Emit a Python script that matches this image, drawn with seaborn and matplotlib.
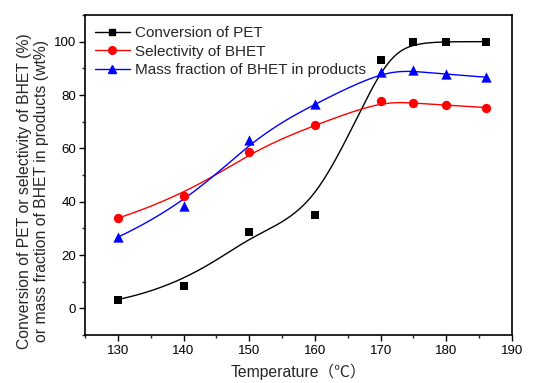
import numpy as np
import pandas as pd
import matplotlib
matplotlib.use("Agg")
import matplotlib.pyplot as plt
from matplotlib.lines import Line2D
from matplotlib.ticker import MultipleLocator
import seaborn as sns

# ---- data ----
temperature = [130, 140, 150, 160, 170, 175, 180, 186]
conversion_pet = [3.3, 8.5, 28.5, 35.0, 93.0, 100.0, 100.0, 100.0]
selectivity_bhet = [33.8, 42.0, 58.8, 68.7, 77.7, 77.0, 76.2, 75.3]
mass_fraction_bhet = [26.7, 38.3, 63.3, 76.7, 88.7, 89.2, 87.7, 86.7]
series_labels = ["Conversion of PET", "Selectivity of BHET",
                 "Mass fraction of BHET in products"]


def bspline_curve(px, py, samples=400, k=3):
    """Clamped uniform cubic B-spline using the data points as control points
    (the 'B-Spline' connection style of the original plot)."""
    px = np.asarray(px, float)
    py = np.asarray(py, float)
    n = len(px)
    knots = np.concatenate([np.zeros(k), np.arange(n - k + 1),
                            np.full(k, n - k)]).astype(float)
    t = np.linspace(0, n - k, samples)
    m = len(knots) - 1
    B = np.zeros((samples, m))
    for i in range(m):
        B[:, i] = (t >= knots[i]) & (t < knots[i + 1])
    nonempty = np.nonzero(knots[:-1] < knots[1:])[0]
    last = nonempty.max()
    end = t >= knots[-1]
    B[end, :] = 0
    B[end, last] = 1
    for d in range(1, k + 1):
        Bn = np.zeros((samples, m - d))
        for i in range(m - d):
            term = np.zeros(samples)
            den1 = knots[i + d] - knots[i]
            den2 = knots[i + d + 1] - knots[i + 1]
            if den1 > 0:
                term += (t - knots[i]) / den1 * B[:, i]
            if den2 > 0:
                term += (knots[i + d + 1] - t) / den2 * B[:, i + 1]
            Bn[:, i] = term
        B = Bn
    return B @ px, B @ py


sns.set_style("ticks")
plt.rcParams["font.family"] = ["Liberation Sans", "DejaVu Sans"]

fig = plt.figure(figsize=(5.33, 3.83), dpi=100)
ax = fig.add_axes([0.1595, 0.1253, 0.8011, 0.8355])

colors = ["black", "red", "blue"]
markers = ["s", "o", "^"]
sizes = [30, 45, 55]
series = [conversion_pet, selectivity_bhet, mass_fraction_bhet]

for vals, c, mk, s in zip(series, colors, markers, sizes):
    cx, cy = bspline_curve(temperature, vals)
    sns.lineplot(x=cx, y=cy, sort=False, estimator=None, color=c,
                 linewidth=1.0, ax=ax)
    sns.scatterplot(x=temperature, y=vals, marker=mk, color=c, s=s,
                    edgecolor=c, linewidth=0, ax=ax, zorder=3)

ax.set_xlim(125, 190)
ax.set_ylim(-10, 110)
ax.xaxis.set_major_locator(MultipleLocator(10))
ax.xaxis.set_minor_locator(MultipleLocator(5))
ax.set_yticks([0, 20, 40, 60, 80, 100])
ax.yaxis.set_minor_locator(MultipleLocator(10))
ax.tick_params(axis="both", which="major", direction="out", length=4,
               width=1, labelsize=9.5, colors="black")
ax.tick_params(axis="y", which="major", pad=2.5)
ax.tick_params(axis="both", which="minor", direction="out", length=2.5,
               width=1)
for sp in ax.spines.values():
    sp.set_visible(True)
    sp.set_linewidth(1.2)
    sp.set_color("black")

ax.set_ylabel("Conversion of PET or selectivity of BHET (%)\n"
              "or mass fraction of BHET in products (wt%)",
              fontsize=11.3, linespacing=1.15)
ax.yaxis.set_label_coords(-0.085, 0.45)
ax.set_xlabel("Temperature（℃）", fontsize=11.3,
              family=["Liberation Sans", "Noto Sans CJK SC"], labelpad=4.5)

handles = [Line2D([0], [0], color=c, marker=mk, markersize=ms, linewidth=1.0)
           for c, mk, ms in zip(colors, markers, [4.5, 5.5, 6])]
ax.legend(handles, series_labels, loc="upper left", frameon=False,
          fontsize=11, handlelength=2.3, handletextpad=0.35,
          labelspacing=0.3, borderaxespad=0.0,
          bbox_to_anchor=(0.008, 0.985))

fig.savefig("out.png", dpi=100)
